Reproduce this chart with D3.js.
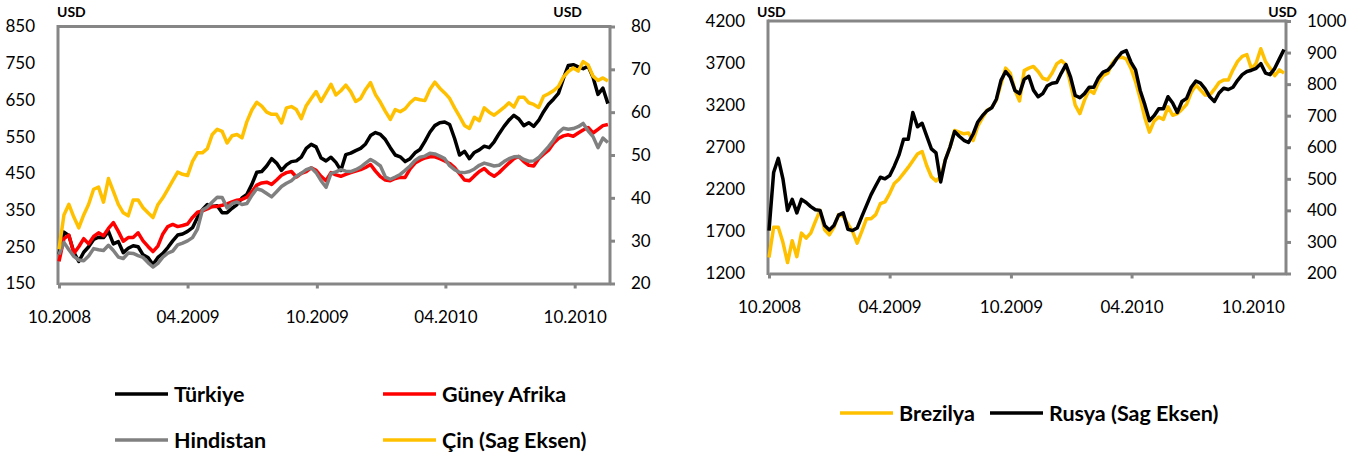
<!DOCTYPE html>
<html>
<head>
<meta charset="utf-8">
<title>Metal fiyatlari</title>
<script src="https://cdn.jsdelivr.net/npm/d3@7"></script>
<style>
body { margin: 0; background: #fff; }
svg { display: block; font-family: Lato, "Open Sans", sans-serif; }
.tick text { font-size: 17px; fill: #000; }
.unit { font-size: 14px; font-weight: bold; }
.legend text { font-size: 21.5px; font-weight: bold; }
</style>
</head>
<body>
<svg id="chart" width="1369" height="457"></svg>
<script>
// weekly observations, 01.10.2008 -> 17.11.2010
var dates = d3.timeDay.range(new Date(2008, 9, 1), new Date(2010, 10, 18), 7);
var xTickLabels = ["10.2008", "04.2009", "10.2009", "04.2010", "10.2010"];

// left chart, USD (left axis)
var turkiye = [
  229,290,280,235,210,235,250,270,276,275,
  292,258,264,234,246,253,250,228,221,202,
  221,232,248,266,282,285,292,302,330,351,
  365,360,362,343,343,355,365,383,393,420,
  453,455,470,490,478,458,473,482,484,494,
  518,529,522,492,484,494,480,458,501,505,
  512,518,530,553,561,556,542,520,500,495,
  482,490,506,515,537,562,580,588,590,583,
  545,500,510,490,507,514,524,520,536,558,
  578,595,608,598,580,588,578,594,618,638,
  652,668,708,744,746,740,735,742,712,665,
  682,640];
var guneyAfrika = [
  210,272,282,232,250,272,258,278,288,280,
  300,316,292,265,275,275,288,266,251,237,
  252,285,305,311,305,308,312,330,344,348,
  353,360,360,363,367,372,377,379,385,400,
  418,424,426,420,432,445,452,455,440,450,
  455,465,458,442,430,452,446,442,447,452,
  456,460,466,474,456,441,432,430,436,439,
  439,462,478,486,492,495,495,490,484,477,
  466,449,432,430,443,455,463,450,442,452,
  465,478,490,496,482,472,470,490,502,513,
  532,545,552,555,551,560,568,575,560,570,
  580,583];
var hindistan = [
  229,262,242,224,214,212,225,245,242,240,
  254,240,222,218,233,232,226,221,207,195,
  205,222,233,238,255,260,266,275,298,350,
  358,372,385,384,356,368,372,365,368,390,
  408,404,395,386,400,414,423,430,442,450,
  460,465,452,430,412,450,454,460,456,455,
  460,467,478,488,480,470,440,434,440,447,
  458,470,485,494,497,505,503,497,490,471,
  460,453,452,455,462,472,478,474,470,472,
  482,490,495,496,488,483,484,493,508,523,
  540,561,573,570,572,577,586,566,550,520,
  546,534];
// right axis
var cin = [
  28,36,38.5,35.5,33,36,38.5,42,42.5,39,
  44.5,41.5,38.5,36.5,35.8,39.5,39.5,37.7,36.5,35.4,
  38.4,40,42,44,46,45.5,45.2,48.5,50.5,50.5,
  51.5,54.8,56,55.5,52.8,54.5,54.8,54,57.8,60.5,
  62.3,61.4,60,59.5,59.5,57.5,61,61.3,60.6,58.5,
  61.5,63.2,64.8,62.5,64.5,66.5,64,65,66.3,64.8,
  62.5,63.2,65.3,66.9,64.1,62.3,60.2,58.3,60.6,60.1,
  60.8,62.2,63.2,62.9,62.7,65.3,67,65.6,64.5,63.2,
  61,59,56.9,56.2,58.8,58,61,60,59.3,60.2,
  61.1,62.2,61.2,63.5,63.5,62.2,61.8,61.1,63.7,64.3,
  65,66,68.2,69.5,70.3,69.6,71.8,71,68.4,67.4,
  68,67.3];

// right chart
var brezilya = [
  1390,1750,1750,1570,1330,1590,1400,1680,1620,1680,
  1820,1950,1720,1660,1750,1900,1880,1790,1700,1560,
  1700,1850,1850,1900,2030,2050,2150,2270,2320,2390,
  2460,2540,2620,2650,2480,2350,2300,2350,2550,2700,
  2900,2880,2860,2870,2780,2950,3050,3140,3170,3260,
  3450,3640,3580,3380,3250,3610,3640,3660,3600,3520,
  3500,3580,3690,3730,3680,3450,3200,3100,3260,3380,
  3340,3470,3550,3580,3700,3760,3770,3750,3640,3480,
  3280,3050,2880,3010,3060,3030,3180,3080,3100,3150,
  3210,3350,3440,3380,3320,3320,3390,3470,3500,3500,
  3620,3720,3780,3800,3630,3700,3870,3720,3640,3550,
  3620,3580];
var rusya = [
  336,520,565,500,400,435,392,435,425,412,
  402,400,352,338,352,385,392,340,336,344,
  380,415,450,478,505,500,510,540,575,625,
  625,710,665,676,635,595,582,490,560,600,
  650,635,622,615,642,680,700,716,725,752,
  812,840,822,780,770,815,825,781,760,770,
  795,803,805,835,862,822,764,757,770,790,
  790,820,838,844,860,882,900,906,870,845,
  780,735,684,700,722,722,760,740,710,745,
  755,790,810,803,785,760,745,772,787,783,
  790,812,830,840,844,850,865,835,830,850,
  880,910];

var leftTicks1 = [150, 250, 350, 450, 550, 650, 750, 850];
var rightTicks1 = [20, 30, 40, 50, 60, 70, 80];
var leftTicks2 = [1200, 1700, 2200, 2700, 3200, 3700, 4200];
var rightTicks2 = [200, 300, 400, 500, 600, 700, 800, 900, 1000];

var axisGrey = "#868686";
var svg = d3.select("#chart");
var parseM = d3.timeParse("%m.%Y");
var endDate = new Date(2010, 10, 20);
var plain = d3.format("d");

function drawPanel(p) {
  var g = svg.append("g");
  var x = d3.scaleTime().domain([dates[0], endDate]).range([p.left + 1, p.right]);
  var yL = d3.scaleLinear().domain(d3.extent(p.leftTicks)).range([p.bottom, p.top]);
  var yR = d3.scaleLinear().domain(d3.extent(p.rightTicks)).range([p.bottom, p.top]);

  // top border of plot area
  g.append("line")
    .attr("x1", p.left).attr("x2", p.right)
    .attr("y1", p.top).attr("y2", p.top)
    .attr("stroke", axisGrey).attr("stroke-width", 3);

  var ax = g.append("g").attr("transform", "translate(0," + p.bottom + ")")
    .call(d3.axisBottom(x).tickValues(xTickLabels.map(parseM))
      .tickFormat(d3.timeFormat("%m.%Y")).tickSizeInner(5).tickSizeOuter(0).tickPadding(22));
  var al = g.append("g").attr("transform", "translate(" + p.left + ",0)")
    .call(d3.axisLeft(yL).tickValues(p.leftTicks).tickFormat(plain).tickSize(0).tickPadding(23));
  var ar = g.append("g").attr("transform", "translate(" + p.right + ",0)")
    .call(d3.axisRight(yR).tickValues(p.rightTicks).tickFormat(plain)
      .tickSizeInner(5).tickSizeOuter(0).tickPadding(16));
  [ax, al, ar].forEach(function (a) {
    a.select(".domain").attr("stroke", axisGrey).attr("stroke-width", 3);
    a.selectAll(".tick line").attr("stroke", axisGrey).attr("stroke-width", 3);
    a.attr("font-family", null).attr("font-size", null);
  });
  al.select(".domain").attr("d", "M0," + (p.top - 1.5) + "V" + (p.bottom + 1.5));
  ar.select(".domain").attr("d", "M0," + (p.top - 1.5) + "V" + (p.bottom + 1.5));

  g.append("text").attr("class", "unit").attr("x", p.unitLeft).attr("y", 17).text("USD");
  g.append("text").attr("class", "unit").attr("x", p.unitRight).attr("y", 17)
    .attr("text-anchor", "end").text("USD");

  p.series.forEach(function (s) {
    var y = s.axis === "right" ? yR : yL;
    var line = d3.line().x(function (d, i) { return x(dates[i]); }).y(function (d) { return y(d); });
    g.append("path").datum(s.values)
      .attr("d", line)
      .attr("fill", "none")
      .attr("stroke", s.color)
      .attr("stroke-width", 3.5)
      .attr("stroke-linejoin", "round");
  });

  var lg = g.append("g").attr("class", "legend");
  p.legend.forEach(function (it) {
    lg.append("line").attr("x1", it.x).attr("x2", it.x + 53).attr("y1", it.y).attr("y2", it.y)
      .attr("stroke", it.color).attr("stroke-width", 3.5);
    lg.append("text").attr("x", it.x + 59).attr("y", it.y).attr("dy", "0.35em").text(it.name);
  });
}

drawPanel({
  left: 58, right: 610, top: 26.5, bottom: 283.5, unitLeft: 57, unitRight: 582,
  leftTicks: leftTicks1, rightTicks: rightTicks1,
  series: [
    { values: turkiye, color: "#000000" },
    { values: guneyAfrika, color: "#ff0000" },
    { values: hindistan, color: "#808080" },
    { values: cin, color: "#ffc000", axis: "right" }
  ],
  legend: [
    { name: "Türkiye", color: "#000000", x: 115, y: 394 },
    { name: "Güney Afrika", color: "#ff0000", x: 383, y: 394 },
    { name: "Hindistan", color: "#808080", x: 115, y: 440 },
    { name: "Çin (Sag Eksen)", color: "#ffc000", x: 383, y: 440 }
  ]
});

drawPanel({
  left: 768, right: 1286, top: 21, bottom: 273.5, unitLeft: 757, unitRight: 1297,
  leftTicks: leftTicks2, rightTicks: rightTicks2,
  series: [
    { values: brezilya, color: "#ffc000" },
    { values: rusya, color: "#000000", axis: "right" }
  ],
  legend: [
    { name: "Brezilya", color: "#ffc000", x: 840, y: 413 },
    { name: "Rusya (Sag Eksen)", color: "#000000", x: 990, y: 413 }
  ]
});
</script>
</body>
</html>
